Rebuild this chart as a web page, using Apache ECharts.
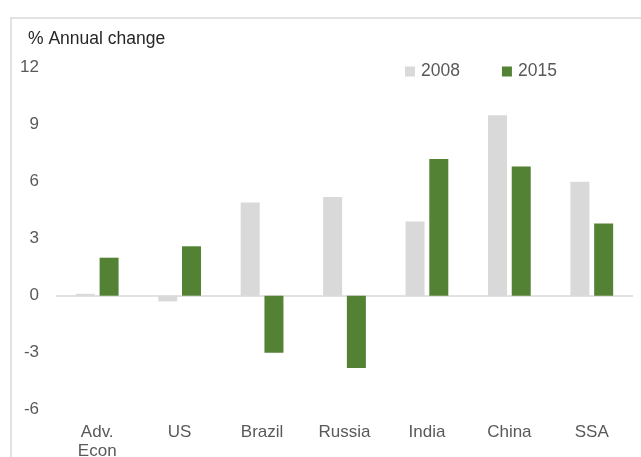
<!DOCTYPE html>
<html>
<head>
<meta charset="utf-8">
<script src="https://cdn.jsdelivr.net/npm/echarts@6/dist/echarts.min.js"></script>
<style>
html,body{margin:0;padding:0;background:#fff;}
#chart{width:641px;height:457px;}
</style>
</head>
<body>
<div id="chart"></div>
<script>
var categories = ['Adv.\nEcon', 'US', 'Brazil', 'Russia', 'India', 'China', 'SSA'];
var values2008 = [0.1, -0.3, 4.9, 5.2, 3.9, 9.5, 6.0];
var values2015 = [2.0, 2.6, -3.0, -3.8, 7.2, 6.8, 3.8];
var yTicks = [-6, -3, 0, 3, 6, 9, 12];

var FONT = '"Liberation Sans", Arial, sans-serif';
var chart = echarts.init(document.getElementById('chart'), null, {renderer: 'canvas'});
chart.setOption({
  animation: false,
  backgroundColor: '#ffffff',
  textStyle: {fontFamily: FONT},
  graphic: [{
    type: 'rect',
    shape: {x: 11, y: 18, width: 700, height: 500},
    style: {fill: 'none', stroke: '#d9d9d9', lineWidth: 1.5},
    silent: true, z: -1
  }],
  title: {
    text: '% Annual change',
    left: 28, top: 30, padding: 0,
    textStyle: {fontFamily: FONT, fontSize: 17.5, fontWeight: 'normal', color: '#262626'}
  },
  legend: {
    data: ['2008', '2015'],
    left: 405, top: 62.5, padding: 0,
    itemWidth: 10, itemHeight: 10, itemGap: 42,
    icon: 'rect',
    textStyle: {fontFamily: FONT, fontSize: 17.5, color: '#595959', padding: [0, 0, 0, 1]}
  },
  grid: {left: 56, right: 8, top: 67.7, bottom: 47.3, containLabel: false, outerBoundsMode: 'none'},
  xAxis: {
    type: 'category',
    data: categories,
    axisLine: {show: false, onZero: false},
    axisTick: {show: false},
    splitLine: {show: false},
    axisLabel: {fontFamily: FONT, fontSize: 17, lineHeight: 19, color: '#595959', margin: 13, interval: 0}
  },
  yAxis: {
    type: 'value',
    min: yTicks[0], max: yTicks[yTicks.length - 1], interval: 3,
    axisLine: {show: false},
    axisTick: {show: false},
    splitLine: {show: false},
    axisLabel: {fontFamily: FONT, fontSize: 17, color: '#595959', margin: 17}
  },
  series: [{
    name: '2008',
    type: 'bar',
    data: values2008,
    barWidth: 19,
    barGap: '25%',
    itemStyle: {color: '#d9d9d9'},
    markLine: {
      silent: true,
      symbol: 'none',
      label: {show: false},
      lineStyle: {color: '#d9d9d9', width: 1.5, type: 'solid'},
      data: [{yAxis: 0}],
      z: 1
    },
    z: 2
  }, {
    name: '2015',
    type: 'bar',
    data: values2015,
    barWidth: 19,
    barGap: '25%',
    itemStyle: {color: '#548235'},
    z: 2
  }]
});
</script>
</body>
</html>
